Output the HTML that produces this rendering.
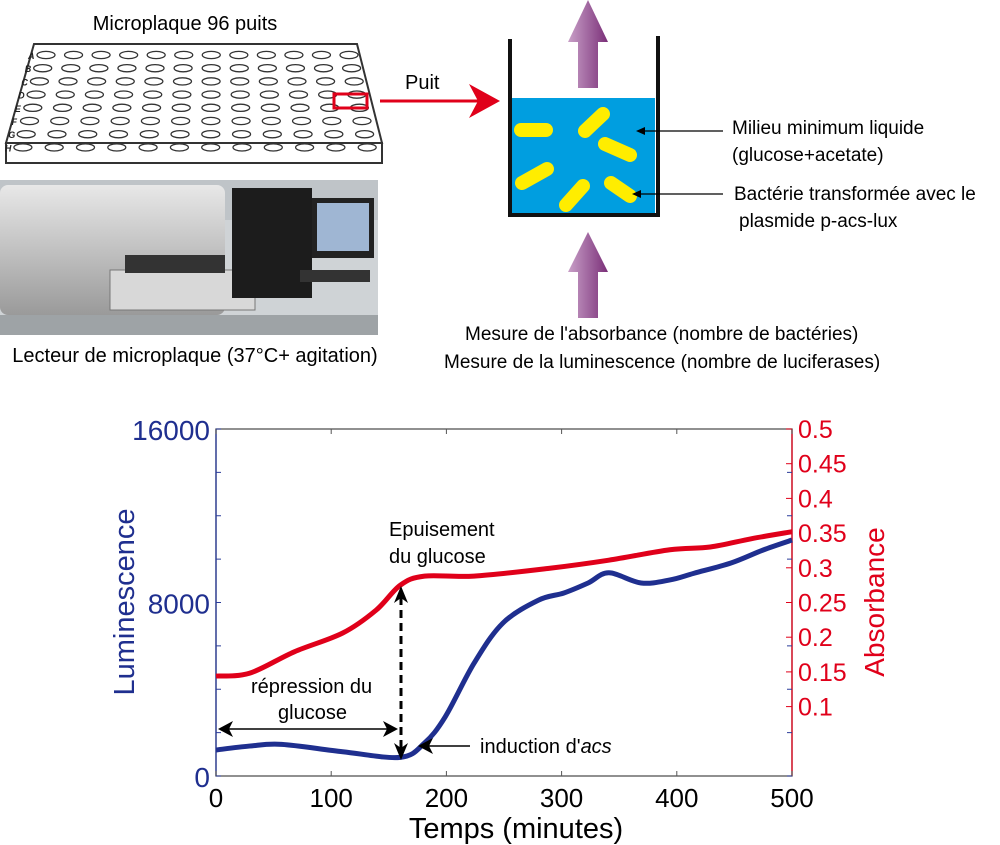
<!DOCTYPE html>
<html><head><meta charset="utf-8"><style>
html,body{margin:0;padding:0;background:#fff}
svg{display:block;font-family:"Liberation Sans",sans-serif}
</style></head><body>
<svg id="fig" width="1000" height="845" viewBox="0 0 1000 845">
<defs>
<linearGradient id="pg" x1="0" x2="1"><stop offset="0" stop-color="#c9a0c8"/><stop offset="1" stop-color="#7a2f78"/></linearGradient>
<linearGradient id="ph" x1="0" y1="0" x2="0" y2="1"><stop offset="0" stop-color="#e8e8e8"/><stop offset="1" stop-color="#9a9a9a"/></linearGradient>
</defs>
<g>
<text x="185" y="30" font-size="20" text-anchor="middle">Microplaque 96 puits</text>
<polygon points="34,44 357,44 382,143 6,143" fill="#fff" stroke="#333" stroke-width="2"/>
<rect x="6" y="143" width="376" height="20" fill="#fff" stroke="#333" stroke-width="2"/>
<g id="wells" fill="none" stroke="#333" stroke-width="1.3"></g>
<rect x="334" y="94" width="33" height="14" fill="none" stroke="#e0001a" stroke-width="3"/>
</g>
<g>
<rect x="0" y="180" width="378" height="155" fill="#cfd3d6"/>
<rect x="0" y="180" width="378" height="40" fill="#bfc4c8"/>
<rect x="0" y="185" width="225" height="130" rx="8" fill="url(#ph)"/>
<rect x="110" y="270" width="145" height="40" fill="#d8d8d8" stroke="#777"/>
<rect x="125" y="255" width="100" height="18" fill="#333"/>
<rect x="232" y="188" width="80" height="110" fill="#1c1c1c"/>
<rect x="312" y="198" width="62" height="60" fill="#222"/>
<rect x="317" y="203" width="52" height="48" fill="#9fb6d3"/>
<rect x="300" y="270" width="70" height="12" fill="#333"/>
<rect x="0" y="315" width="378" height="20" fill="#9ea3a6"/>
</g>
<text x="195" y="362" font-size="20" text-anchor="middle">Lecteur de microplaque (37°C+ agitation)</text>
<g>
<line x1="380" y1="101" x2="480" y2="101" stroke="#e0001a" stroke-width="3"/>
<polygon points="469,84 500,101 469,118 478,101" fill="#e0001a"/>
<text x="405" y="89" font-size="20">Puit</text>
</g>
<g>
<rect x="512" y="98" width="143" height="115" fill="#009ee0"/>
<polyline points="510,39 510,215 658,215 658,36" fill="none" stroke="#111" stroke-width="4"/>
<g stroke="#ffed00" stroke-width="14" stroke-linecap="round">
<line x1="521" y1="130" x2="546" y2="130"/><line x1="585" y1="131" x2="603" y2="114"/>
<line x1="605" y1="144" x2="630" y2="155"/><line x1="522" y1="183" x2="547" y2="169"/>
<line x1="566" y1="205" x2="583" y2="186"/><line x1="611" y1="183" x2="630" y2="196"/>
</g>
<polygon points="578,88 578,42 568,42 588,0 608,42 598,42 598,88" fill="url(#pg)"/>
<polygon points="578,318 578,272 568,272 588,232 608,272 598,272 598,318" fill="url(#pg)"/>
<line x1="723" y1="131" x2="638" y2="131" stroke="#000" stroke-width="1.3"/><polygon points="636,131 645,127 645,135"/>
<line x1="723" y1="194" x2="635" y2="194" stroke="#000" stroke-width="1.3"/><polygon points="632,194 641,190 641,198"/>
</g>
<g font-size="19">
<text x="732" y="134">Milieu minimum liquide</text>
<text x="732" y="161">(glucose+acetate)</text>
<text x="734" y="200">Bactérie transformée avec le</text>
<text x="739" y="227">plasmide p-acs-lux</text>
<text x="465" y="340">Mesure de l'absorbance (nombre de bactéries)</text>
<text x="444" y="368">Mesure de la luminescence (nombre de luciferases)</text>
</g>
<g id="chart"></g>
</svg>
<script>
const timeLum=[0,29,57,110,160,181,199,224,249,280,302,323,341,369,394,415,447,475,500];
const lumValues=[1200,1380,1460,1120,860,1520,2730,5200,7050,8110,8440,8900,9370,8900,9040,9350,9820,10420,10880];
const timeAbs=[0,29,68,110,139,160,181,224,288,341,394,429,465,500];
const absValues=[0.144,0.148,0.179,0.206,0.239,0.275,0.288,0.288,0.299,0.311,0.326,0.330,0.342,0.352];
const xTicks=[0,100,200,300,400,500];
const lumTicks=[0,8000,16000];
const lumMinor=[0,2000,4000,6000,8000,10000,12000,14000,16000];
const absTicks=[0.1,0.15,0.2,0.25,0.3,0.35,0.4,0.45,0.5];
const absTickLabels=["0.1","0.15","0.2","0.25","0.3","0.35","0.4","0.45","0.5"];
const NS="http://www.w3.org/2000/svg";
const L=216,R=792,T=429,B=776;
const X=t=>L+t/500*(R-L), YL=v=>B-v/16000*(B-T), YA=v=>B-v/0.5*(B-T);
const g=document.getElementById('chart');
function mk(tag,a,p){const e=document.createElementNS(NS,tag);for(const k in a)e.setAttribute(k,a[k]);(p||g).appendChild(e);return e;}
const wg=document.getElementById('wells');
for(let r=0;r<8;r++){const y=55+r*13.2;const x0=34-r*3.3,x1=357+r*2.6;
 for(let c=0;c<12;c++){mk('ellipse',{cx:x0+12+c*(x1-x0-20)/11,cy:y,rx:9,ry:3.6},wg);}
 const tl=mk('text',{x:x0-6,y:y+4,'font-size':9,'font-weight':'bold','font-style':'italic',stroke:'none',fill:'#222'},wg);tl.textContent='ABCDEFGH'[r];}
const fr=mk('rect',{x:L,y:T,width:R-L,height:B-T,fill:'none',stroke:'#555','stroke-width':1.3});


mk('line',{x1:L,y1:T,x2:L,y2:B,stroke:'#2b3c9a','stroke-width':1.3});
mk('line',{x1:R,y1:T,x2:R,y2:B,stroke:'#e0001a','stroke-width':1.3});
xTicks.forEach(t=>{mk('line',{x1:X(t),y1:B,x2:X(t),y2:B-5,stroke:'#555'});mk('line',{x1:X(t),y1:T,x2:X(t),y2:T+5,stroke:'#555'});
 const tx=mk('text',{x:X(t),y:B+31,'font-size':26,'text-anchor':'middle'});tx.textContent=t;
 
 });
lumMinor.forEach(v=>{mk('line',{x1:L,y1:YL(v),x2:L+5,y2:YL(v),stroke:'#2b3c9a'});mk('line',{x1:R,y1:YL(v),x2:R-5,y2:YL(v),stroke:'#2b3c9a'});});
lumTicks.forEach(v=>{const tx=mk('text',{x:L-6,y:YL(v)+11,'font-size':28,'text-anchor':'end',fill:'#1f2f8f'});tx.textContent=v;
 
 });
absTicks.forEach((v,i)=>{mk('line',{x1:R,y1:YA(v),x2:R-6,y2:YA(v),stroke:'#e0001a'});
 const tx=mk('text',{x:R+6,y:YA(v)+9,'font-size':25,fill:'#e0001a'});tx.textContent=absTickLabels[i];
 
 });
function smooth(pts){let d='M'+pts[0][0]+','+pts[0][1];for(let i=0;i<pts.length-1;i++){const p0=pts[i-1]||pts[i],p1=pts[i],p2=pts[i+1],p3=pts[i+2]||p2;
 d+=' C'+(p1[0]+(p2[0]-p0[0])/6)+','+(p1[1]+(p2[1]-p0[1])/6)+' '+(p2[0]-(p3[0]-p1[0])/6)+','+(p2[1]-(p3[1]-p1[1])/6)+' '+p2[0]+','+p2[1];}return d;}
const ra=mk('path',{d:smooth(timeAbs.map((t,i)=>[X(t),YA(absValues[i])])),fill:'none',stroke:'#e0001a','stroke-width':5});


const bl=mk('path',{d:smooth(timeLum.map((t,i)=>[X(t),YL(lumValues[i])])),fill:'none',stroke:'#1f2f8f','stroke-width':5});


const ann=mk('g',{'font-size':20});


mk('line',{x1:401,y1:597,x2:401,y2:750,stroke:'#000','stroke-width':3,'stroke-dasharray':'8,5'},ann);
mk('polygon',{points:'401,586 394,603 401,598 408,603'},ann);
mk('polygon',{points:'401,760 394,743 401,748 408,743'},ann);
mk('line',{x1:225,y1:729,x2:393,y2:729,stroke:'#000','stroke-width':1.5},ann);
mk('polygon',{points:'218,729 233,721 229,729 233,737'},ann);
mk('polygon',{points:'398,729 383,721 387,729 383,737'},ann);
mk('line',{x1:470,y1:746,x2:426,y2:746,stroke:'#000','stroke-width':1.5},ann);
mk('polygon',{points:'418,746 433,738 429,746 433,754'},ann);
[['Epuisement',389,536],['du glucose',389,563],['répression du',251,693],['glucose',278,719]].forEach(a=>{const t=mk('text',{x:a[1],y:a[2]},ann);t.textContent=a[0];});
const ind=mk('text',{x:480,y:753},ann);ind.innerHTML="induction d'<tspan font-style='italic'>acs</tspan>";
const xt=mk('text',{x:516,y:838,'font-size':29,'text-anchor':'middle'});xt.textContent='Temps (minutes)';


const yl=mk('text',{x:0,y:0,'font-size':29,'text-anchor':'middle',fill:'#1f2f8f',transform:'translate(134,602) rotate(-90)'});yl.textContent='Luminescence';


const yr=mk('text',{x:0,y:0,'font-size':28,'text-anchor':'middle',fill:'#e0001a',transform:'translate(884,602) rotate(-90)'});yr.textContent='Absorbance';


</script>
</body></html>
